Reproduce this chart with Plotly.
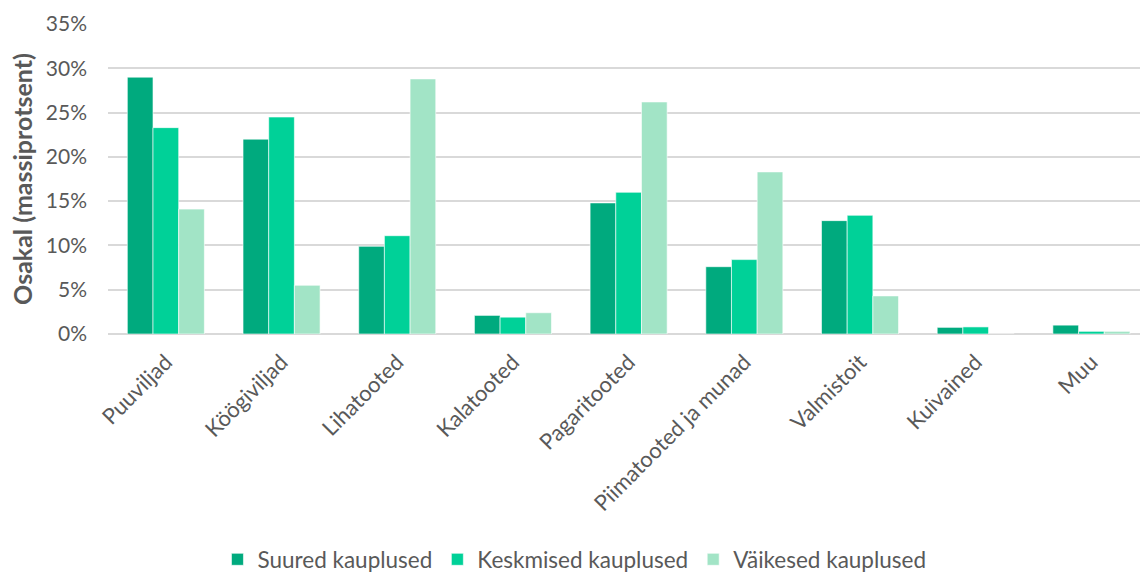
import plotly.graph_objects as go

categories = ["Puuviljad", "Köögiviljad", "Lihatooted", "Kalatooted", "Pagaritooted",
              "Piimatooted ja munad", "Valmistoit", "Kuivained", "Muu"]
suured = [29.0, 22.0, 9.9, 2.1, 14.8, 7.6, 12.8, 0.75, 1.0]
keskmised = [23.3, 24.5, 11.1, 1.9, 16.0, 8.4, 13.4, 0.8, 0.3]
vaikesed = [14.1, 5.5, 28.8, 2.4, 26.2, 18.3, 4.3, 0.0, 0.3]
series_names = ["Suured kauplused", "Keskmised kauplused", "Väikesed kauplused"]
colors = ["#00AA7E", "#00D198", "#A2E4C6"]
y_ticks = [0, 5, 10, 15, 20, 25, 30, 35]

FONT = "Lato, Calibri, sans-serif"
GREY = "#595959"

fig = go.Figure()
for name, vals, col in zip(series_names, [suured, keskmised, vaikesed], colors):
    fig.add_trace(go.Bar(
        x=categories, y=vals, name=name,
        marker=dict(color=col, line=dict(color="rgba(255,255,255,0.6)", width=1)),
    ))

fig.update_layout(
    width=1140, height=572,
    margin=dict(l=108, r=0, t=24, b=238, autoexpand=False),
    paper_bgcolor="white", plot_bgcolor="white",
    barmode="group", bargap=0.334, bargroupgap=0,
    font=dict(family=FONT, color=GREY),
    showlegend=True,
    legend=dict(orientation="h", x=0.452, xanchor="center", y=-0.728, yanchor="middle",
                font=dict(size=22.5, color=GREY, family=FONT), itemwidth=30,
                traceorder="normal"),
    xaxis=dict(
        type="category", range=[-0.5, 8.42], tickangle=-45,
        tickfont=dict(size=22, color=GREY, family=FONT), ticklabelstandoff=10,
        showgrid=False, showline=False, ticks="", zeroline=False,
    ),
    yaxis=dict(
        range=[0, 35], tickvals=y_ticks, ticktext=[f"{v}%" for v in y_ticks],
        tickfont=dict(size=21, color=GREY, family=FONT), ticklabelstandoff=20,
        showgrid=True, gridcolor="#D9D9D9", gridwidth=1.5,
        zeroline=True, zerolinecolor="#D9D9D9", zerolinewidth=1.5,
        showline=False, ticks="", ticklen=0,
        title=dict(text="<b>Osakal (massiprotsent)</b>", font=dict(size=25, color=GREY, family=FONT),
                   standoff=6),
    ),
)

fig.write_html(
    "out.html",
    config={"displayModeBar": False},
    post_script="document.body.style.margin='0';document.body.style.overflow='hidden';",
)
